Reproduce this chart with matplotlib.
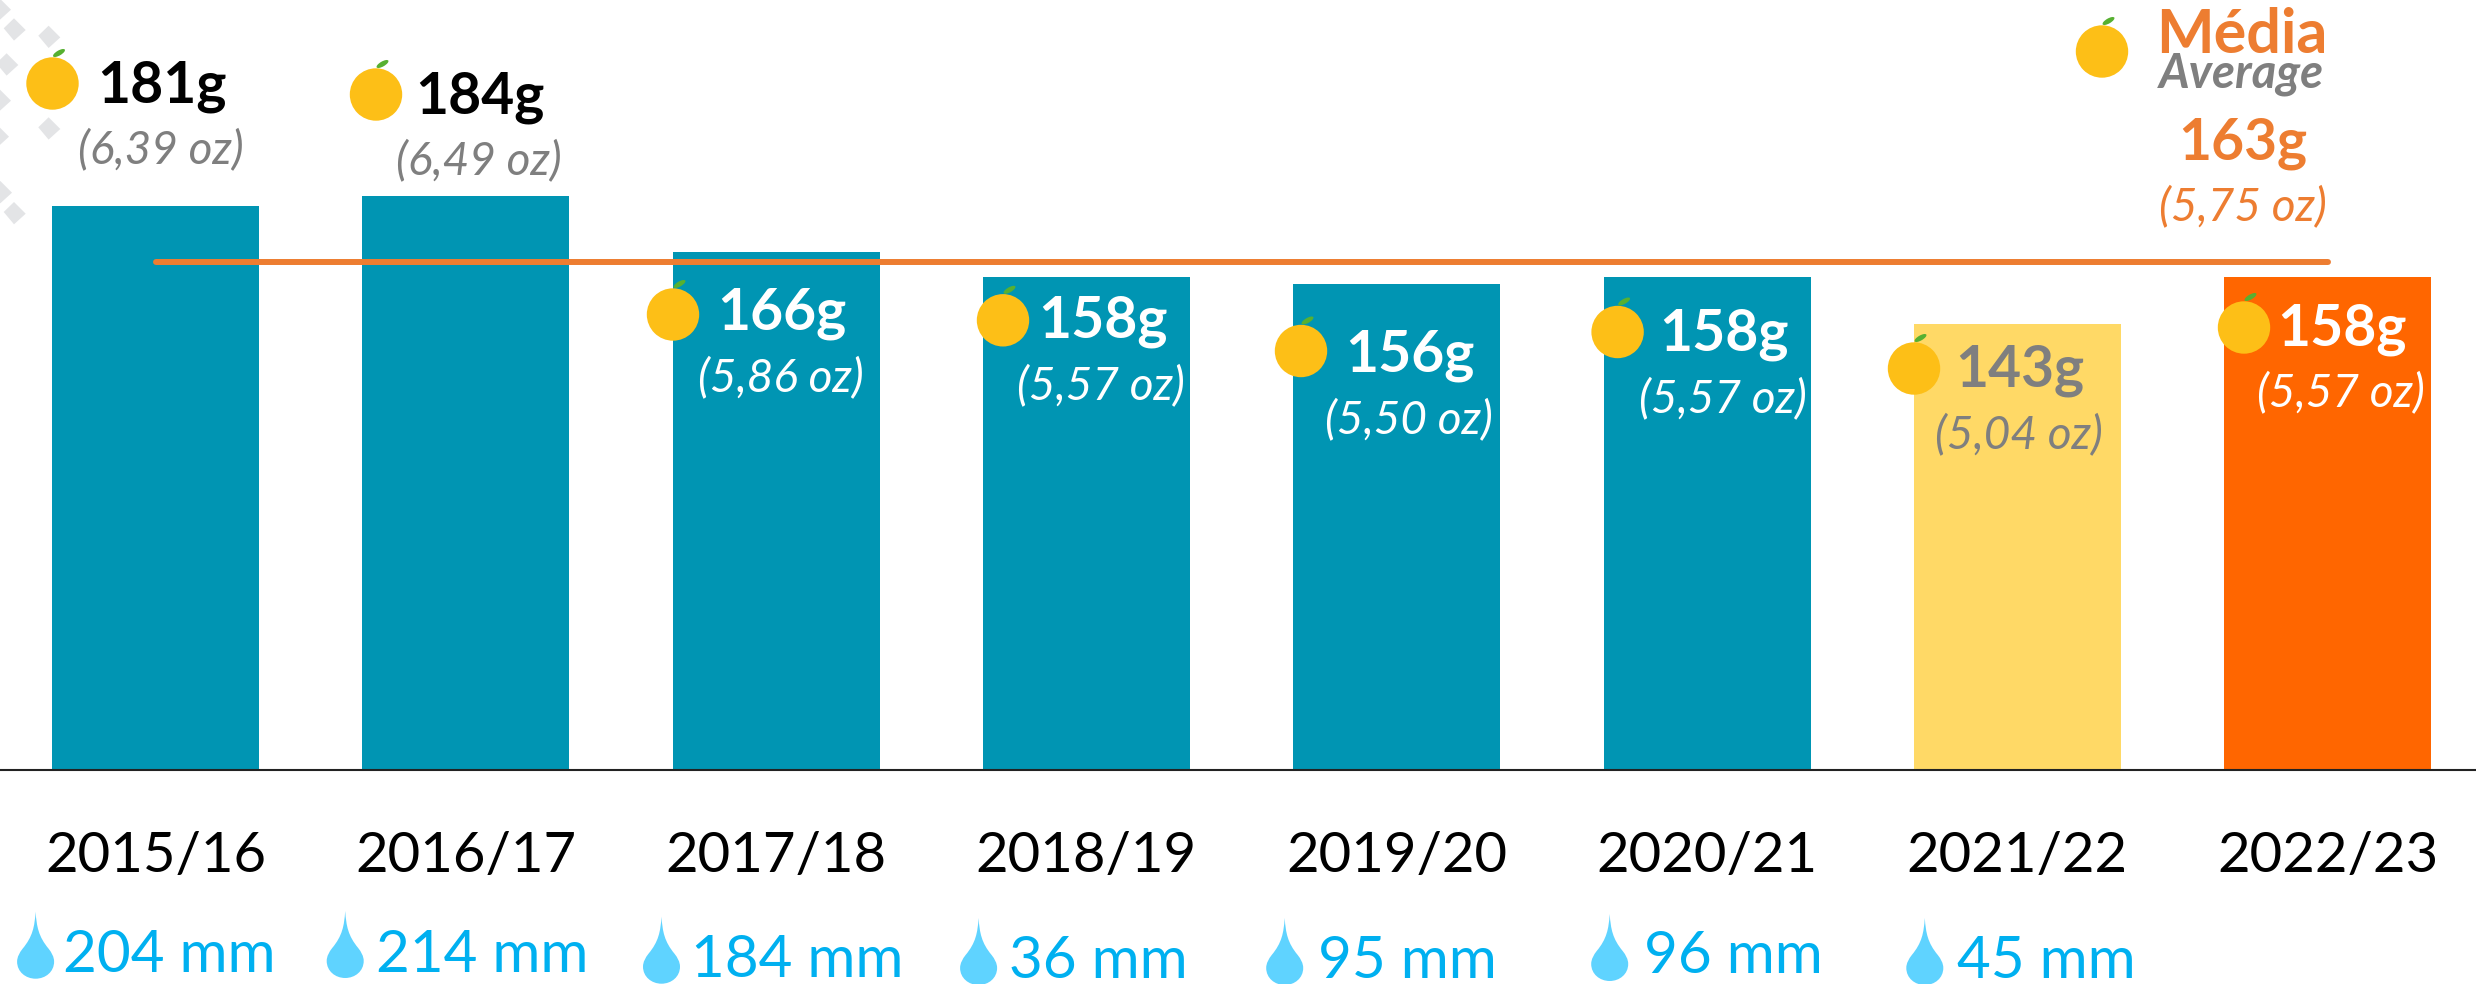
import matplotlib
matplotlib.use('Agg')
import matplotlib.pyplot as plt
from matplotlib.patches import Circle, Ellipse, PathPatch, Polygon
from matplotlib.path import Path

plt.rcParams['font.family'] = ['Lato', 'DejaVu Sans']

# Data
seasons = ['2015/16', '2016/17', '2017/18', '2018/19', '2019/20', '2020/21', '2021/22', '2022/23']
weights = [181, 184, 166, 158, 156, 158, 143, 158]
ounces = ['6,39', '6,49', '5,86', '5,57', '5,50', '5,57', '5,04', '5,57']
rain_mm = [204, 214, 184, 36, 95, 96, 45]
avg_weight = 163
avg_ounces = '5,75'

# Styles
bar_colors = ['#0095B3'] * 6 + ['#FFD966', '#FF6600']
value_colors = ['black', 'black', 'white', 'white', 'white', 'white', '#7F7F7F', 'white']
oz_colors = ['#7F7F7F', '#7F7F7F', 'white', 'white', 'white', 'white', '#7F7F7F', 'white']
avg_color = '#ED7D31'

# Layout of the hand placed labels, in image pixels
orange_xy = [(52.5, 83.5), (376, 94.5), (673, 314.5), (1003, 320.3),
             (1301, 351), (1617.6, 332), (1914, 368.5), (2244, 327.5)]
value_xy = [(162, 102.3), (479.5, 113.3), (782, 329), (1102.5, 337.3),
            (1409.6, 371.7), (1723.5, 350.7), (2019.7, 386.7), (2342, 345.7)]
oz_xy = [(161, 163.3), (479, 174.3), (781, 391.3), (1101, 399.3),
         (1408.6, 433.3), (1723, 412.3), (2018.7, 448.3), (2341, 406.7)]
rain_xy = [(169.6, 972.3), (482, 971.7), (797.6, 976.7), (1098.5, 978.3),
           (1407.7, 978.3), (1733, 973.3), (2046.6, 978.3)]
drop_xy = [(35.6, 911.7), (345.2, 911), (661.5, 916.7), (978.6, 918),
           (1284.7, 918), (1609.7, 914), (1924.8, 918)]
diamond_xy = [(0, 9), (14.7, 29.3), (49.3, 36.7), (7.3, 64.3), (0, 100),
              (49.3, 128.3), (-2, 136), (1, 192), (14.7, 213)]

W, H = 2476, 984
base_y = 769.5
px_per_g = 3.115
first_center = 155.5
spacing = 310.3

fig = plt.figure(figsize=(W / 100, H / 100), dpi=100)
ax = fig.add_axes([0, (H - base_y) / H, 1, base_y / H])
ax.set_xlim(-first_center / spacing, (W - first_center) / spacing)
ax.set_ylim(0, base_y / px_per_g)

x = range(len(seasons))
ax.bar(x, weights, width=207 / spacing, color=bar_colors, zorder=2)
ax.plot(x, [avg_weight] * len(seasons), color=avg_color, lw=4.3,
        solid_capstyle='round', zorder=3)

for side in ['top', 'left', 'right']:
    ax.spines[side].set_visible(False)
ax.spines['bottom'].set_linewidth(1.5)
ax.spines['bottom'].set_color('#222222')
ax.spines['bottom'].set_zorder(4)
ax.set_yticks([])
ax.set_xticks(list(x))
ax.set_xticklabels(seasons, fontsize=40.5, color='black')
ax.tick_params(axis='x', length=0, pad=44)

# Overlay in pixel coordinates for the oranges, drops and free labels
over = fig.add_axes([0, 0, 1, 1])
over.set_xlim(0, W)
over.set_ylim(H, 0)
over.axis('off')
over.patch.set_alpha(0)


def add_orange(cx, cy):
    over.add_patch(Circle((cx, cy), 26.2, color='#FDBF17', lw=0, zorder=5))
    over.add_patch(Ellipse((cx + 6.5, cy - 30.5), 13.5, 5, angle=-30,
                           color='#57B031', lw=0, zorder=5))


def add_drop(tx, ty):
    verts = [(tx, ty),
             (tx + 1, ty + 15), (tx + 3, ty + 25), (tx + 13, ty + 37),
             (tx + 16, ty + 41), (tx + 18.5, ty + 45), (tx + 18.5, ty + 50),
             (tx + 18.5, ty + 60), (tx + 10, ty + 67), (tx, ty + 67),
             (tx - 10, ty + 67), (tx - 18.5, ty + 60), (tx - 18.5, ty + 50),
             (tx - 18.5, ty + 45), (tx - 16, ty + 41), (tx - 13, ty + 37),
             (tx - 3, ty + 25), (tx - 1, ty + 15), (tx, ty),
             (tx, ty)]
    codes = [Path.MOVETO] + [Path.CURVE4] * 18 + [Path.CLOSEPOLY]
    over.add_patch(PathPatch(Path(verts, codes), color='#5FD3FF', lw=0, zorder=5))


for dx, dy in diamond_xy:
    over.add_patch(Polygon([(dx - 0.7, dy - 11), (dx + 11, dy + 0.7),
                            (dx - 0.7, dy + 11.3), (dx - 11, dy - 1)],
                           color='#E3E4E6', lw=0, zorder=1))

for i in x:
    add_orange(*orange_xy[i])
    over.text(*value_xy[i], f'{weights[i]}g', fontsize=41, fontweight='bold',
              color=value_colors[i], ha='center', va='baseline', zorder=6)
    over.text(*oz_xy[i], f'({ounces[i]} oz)', fontsize=33, style='italic',
              color=oz_colors[i], ha='center', va='baseline', zorder=6)

for i, mm in enumerate(rain_mm):
    add_drop(*drop_xy[i])
    over.text(*rain_xy[i], f'{mm} mm', fontsize=42, color='#00B0F0',
              ha='center', va='baseline', zorder=6)

# Average legend, top right
add_orange(2102, 51.5)
over.text(2242, 53.3, 'Média', fontsize=44, fontweight='bold', color=avg_color,
          ha='center', va='baseline', zorder=6)
over.text(2241, 87.3, 'Average', fontsize=34, fontweight='bold', style='italic',
          color='#7F7F7F', ha='center', va='baseline', zorder=6)
over.text(2243, 159.3, f'{avg_weight}g', fontsize=41, fontweight='bold',
          color=avg_color, ha='center', va='baseline', zorder=6)
over.text(2242.5, 220.7, f'({avg_ounces} oz)', fontsize=33, style='italic',
          color=avg_color, ha='center', va='baseline', zorder=6)

fig.savefig('out.png', dpi=100, facecolor='white')
